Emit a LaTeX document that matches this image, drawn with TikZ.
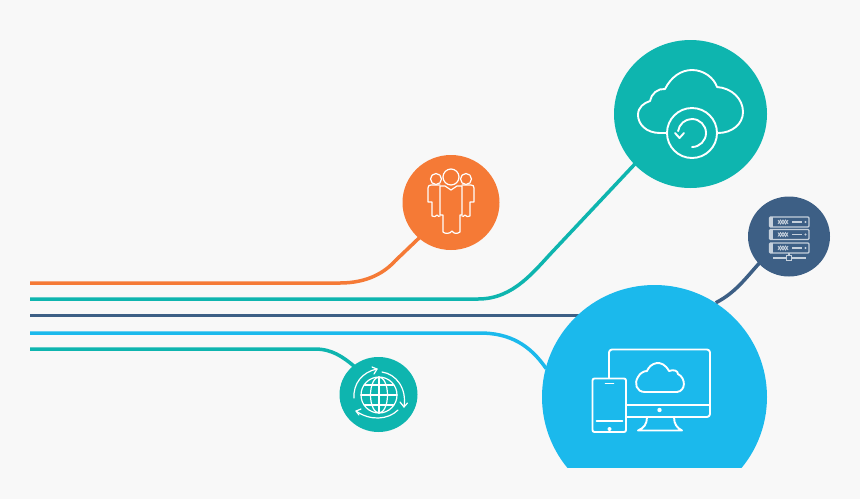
\documentclass[tikz,border=0pt]{standalone}
\usepackage{xcolor}
\usetikzlibrary{backgrounds,shapes.geometric}
\definecolor{pagegray}{HTML}{F8F8F8}
\definecolor{orangeline}{HTML}{F57A36}
\definecolor{tealline}{HTML}{0EB5AF}
\definecolor{navyline}{HTML}{3D5F85}
\definecolor{skyline}{HTML}{1BB9EC}
\definecolor{rackgray}{HTML}{C5D0DC}
\tikzset{
  hub/.style 2 args={ellipse, inner sep=0pt, minimum width=#1, minimum height=#2},
  link/.style={line width=3.5pt, line join=round, shorten >=-1pt},
  glyph/.style={draw=white, line width=1.9pt, line join=round, line cap=round},
  fine glyph/.style={draw=white, line width=1.2pt, line join=round, line cap=round},
  rack/.style={draw=rackgray, line width=1.1pt},
}

\begin{document}
\begin{tikzpicture}[x=1pt, y=-1pt]
\useasboundingbox (0,0) rectangle (860,499);

\coordinate (start_a) at (30,283);
\coordinate (start_b) at (30,299);
\coordinate (start_c) at (30,315.5);
\coordinate (start_d) at (30,333);
\coordinate (start_e) at (30,349);

\node[hub={97pt}{95pt}, fill=orangeline] (team) at (451,202.5) {};
\node[hub={153pt}{148pt}, fill=tealline] (backup) at (690.5,114) {};
\node[hub={82pt}{80pt}, fill=navyline] (server) at (789,236.5) {};
\node[hub={78pt}{75pt}, fill=tealline] (globe) at (378.5,394.5) {};
% big circle, cut off at the bottom
\begin{scope}
\clip (500,270) rectangle (800,467);
\node[hub={225pt}{224pt}, fill=skyline] (devices) at (654.5,397) {};
\end{scope}

% lines to the circles
\begin{scope}[on background layer]
\fill[pagegray] (0,0) rectangle (860,499);
\draw[link, orangeline] (start_a) -- (340,283) .. controls (368,283) and (385,272) .. (395,261) -- (team.228);
\draw[link, tealline] (start_b) -- (478,299) .. controls (514,299) and (534,271) .. (555,249) -- (backup.222);
\draw[link, navyline] (start_c) -- (start_c -| devices.133);
\draw[link, navyline] (devices.57) .. controls (735,293) and (745,279) .. (server.222);
\draw[link, skyline] (start_d) -- (480,333) .. controls (510,333) and (530,345) .. (devices.165);
\draw[link, tealline] (start_e) -- (315,349) .. controls (332,349) and (343,357) .. (globe.131);
\end{scope}

% cloud with arrow
\begin{scope}[glyph]
\draw (667,133) -- (660,133) .. controls (646,133) and (638,124) .. (638,115)
  .. controls (638,107) and (644,103) .. (650,101) .. controls (651,94) and (658,88) .. (665,89)
  .. controls (671,77) and (681,70) .. (692,70) .. controls (704,70) and (714,78) .. (717,87)
  .. controls (732,88) and (743,99) .. (743,112) .. controls (743,124) and (732,133) .. (718,133);
\draw (692,133) circle (25pt);
\draw (692,147) arc (-90:172:14pt);
\draw (675,133) -- (679.5,138) -- (684,133);
\end{scope}

% people
\begin{scope}[fine glyph]
\draw (451,177) circle (8pt);
\draw (440,186) -- (445,186) -- (451,190) -- (457,186) -- (462,186) -- (462,215) -- (460,215) -- (460,232)
  .. controls (457,234) and (454,234) .. (452,231) .. controls (450,234) and (445,234) .. (443,232) -- (443,215) -- (440,215) -- cycle;
\draw (436,179) circle (5.5pt);
\draw (466,179) circle (5.5pt);
\draw (440,185) -- (431,185) .. controls (429,185) and (428,186) .. (428,188) -- (428,202) -- (432,202) -- (432,216)
  .. controls (434,217) and (436,217) .. (437,215) .. controls (438,217) and (439,216) .. (440,216);
\draw (462,185) -- (471,185) .. controls (473,185) and (474,186) .. (474,188) -- (474,202) -- (470,202) -- (470,216)
  .. controls (468,217) and (466,217) .. (465,215) .. controls (464,217) and (463,216) .. (462,216);
\end{scope}

% server racks
\foreach \rackY in {222,234.5,248}{
  \draw[rack, rounded corners=1pt] (769.5,\rackY-5) rectangle (809,\rackY+5);
  \fill[rackgray] (769.5,\rackY-5) rectangle (773,\rackY+5);
  \draw[rack, line width=.8pt] (778,\rackY-2) -- ++(2.5,4) -- ++(2.5,-4) -- ++(2.5,4) -- ++(2.5,-4)
    (778,\rackY+2) -- ++(2.5,-4) -- ++(2.5,4) -- ++(2.5,-4) -- ++(2.5,4);
  \draw[rack] (792,\rackY) -- (802,\rackY);
  \fill[rackgray] (805.5,\rackY) circle (1.2pt);
}
\draw[rack] (773,258) -- (786.5,258) (791.5,258) -- (806,258);
\draw[rack] (789,253) -- (789,255.5);
\draw[rack] (786.5,255.5) rectangle (791.5,260.5);

% globe
\begin{scope}[fine glyph]
\draw (379,395) circle (18pt);
\draw (379,395) ellipse (8.5pt and 18pt);
\draw (379,377) -- (379,413);
\draw (361,395) -- (397,395);
\draw (364.5,385) -- (393.5,385) (364.5,405) -- (393.5,405);
\draw (354,398) .. controls (353,384) and (362,372) .. (377,369);
\draw (372,367) -- (377,369) -- (374,374);
\draw (382,372) .. controls (396,374) and (407,388) .. (404,407);
\draw (400,402) -- (404,407) -- (407.5,403);
\draw (398,410) .. controls (388,420) and (370,421) .. (356,411);
\draw (361,409) -- (356,411) -- (359,415);
\end{scope}

% screen and phone
\begin{scope}[glyph]
\draw[rounded corners=3pt] (609,378) -- (609,349.5) -- (710,349.5) -- (710,417) -- (627,417);
\draw (627,405) -- (709,405);
\fill[white] (659.5,410) circle (2.2pt);
\draw (647,417) .. controls (647,424) and (644,428) .. (638,430.5) -- (682,430.5) .. controls (677,428) and (674,424) .. (674,417);
\draw[rounded corners=2pt] (592.5,378.5) rectangle (626,432);
\draw (605.5,383.5) -- (613.5,383.5);
\draw (596.5,421) -- (622.5,421);
\fill[white] (609.5,429) circle (2pt);
\draw (645,392) .. controls (636,392) and (634,383) .. (638,377) .. controls (640,373) and (644,371) .. (647,371)
  .. controls (650,363) and (662,358) .. (669,371) .. controls (674,369) and (678,371) .. (678,374)
  .. controls (686,378) and (686,391) .. (677,392) -- cycle;
\end{scope}
\end{tikzpicture}
\end{document}
